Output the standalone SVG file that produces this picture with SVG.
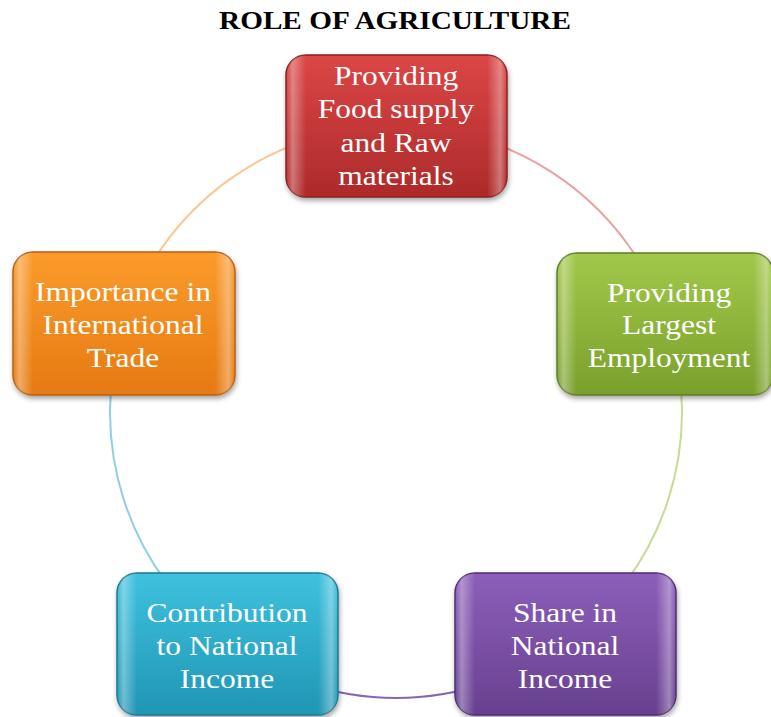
<svg xmlns="http://www.w3.org/2000/svg" width="771" height="717" viewBox="0 0 771 717">
<defs>
<linearGradient id="gRed" x1="0" y1="0" x2="0" y2="1"><stop offset="0" stop-color="#dc4646"/><stop offset="1" stop-color="#ad2a2a"/></linearGradient>
<linearGradient id="gOrange" x1="0" y1="0" x2="0" y2="1"><stop offset="0" stop-color="#fb9b2c"/><stop offset="1" stop-color="#e67a12"/></linearGradient>
<linearGradient id="gGreen" x1="0" y1="0" x2="0" y2="1"><stop offset="0" stop-color="#a2c84a"/><stop offset="1" stop-color="#7aa02c"/></linearGradient>
<linearGradient id="gTeal" x1="0" y1="0" x2="0" y2="1"><stop offset="0" stop-color="#3ec2de"/><stop offset="1" stop-color="#2095b4"/></linearGradient>
<linearGradient id="gPurple" x1="0" y1="0" x2="0" y2="1"><stop offset="0" stop-color="#8c5fba"/><stop offset="1" stop-color="#68408f"/></linearGradient>
<linearGradient id="gSheen" x1="0" y1="0" x2="1" y2="0">
<stop offset="0" stop-color="#fff" stop-opacity="0"/>
<stop offset="0.03" stop-color="#fff" stop-opacity="0.35"/>
<stop offset="0.09" stop-color="#fff" stop-opacity="0"/>
<stop offset="0.91" stop-color="#fff" stop-opacity="0"/>
<stop offset="0.97" stop-color="#fff" stop-opacity="0.35"/>
<stop offset="1" stop-color="#fff" stop-opacity="0"/>
</linearGradient>
<filter id="shadow" x="-10%" y="-10%" width="125%" height="130%">
<feDropShadow dx="1" dy="3" stdDeviation="2.5" flood-color="#000" flood-opacity="0.35"/>
</filter>
</defs>
<style>
.title{font-family:"Liberation Serif","Times New Roman",serif;font-weight:bold;font-size:26px;fill:#000;text-anchor:middle}
.lbl{font-family:"Liberation Serif","Times New Roman",serif;font-size:28px;fill:#fff;text-anchor:middle}
.conn{fill:none;stroke-width:2}
.sheen{fill:url(#gSheen)}
</style>
<rect width="771" height="717" fill="#fff"/>
<text class="title" transform="translate(395,29) scale(1.125,1)" x="0" y="0">ROLE OF AGRICULTURE</text>
<g id="connectors">
<path class="conn" stroke="#e9a3a3" d="M396,126 A286,286 0 0 1 668,323.6"/>
<path class="conn" stroke="#c6dc96" d="M668,323.6 A286,286 0 0 1 564.1,643.4"/>
<path class="conn" stroke="#8866b6" stroke-width="2.5" d="M564.1,643.4 A286,286 0 0 1 227.9,643.4"/>
<path class="conn" stroke="#8fcfe3" d="M227.9,643.4 A286,286 0 0 1 124,323.6"/>
<path class="conn" stroke="#f9c796" d="M124,323.6 A286,286 0 0 1 396,126"/>
</g>
<g id="node-food">
<rect x="286" y="55" width="221" height="142" rx="20" fill="url(#gRed)" stroke="#8a1f1f" stroke-width="1.5" filter="url(#shadow)"/>
<rect class="sheen" x="286" y="55" width="221" height="142" rx="20"/>
<g transform="translate(396,0) scale(1.125,1)">
<text class="lbl" x="0" y="85">Providing</text>
<text class="lbl" x="0" y="118">Food supply</text>
<text class="lbl" x="0" y="152">and Raw</text>
<text class="lbl" x="0" y="185">materials</text>
</g>
</g>
<g id="node-employment">
<rect x="557" y="253" width="216" height="142" rx="20" fill="url(#gGreen)" stroke="#5e7f20" stroke-width="1.5" filter="url(#shadow)"/>
<rect class="sheen" x="557" y="253" width="216" height="142" rx="20"/>
<g transform="translate(669,0) scale(1.125,1)">
<text class="lbl" x="0" y="302">Providing</text>
<text class="lbl" x="0" y="334">Largest</text>
<text class="lbl" x="0" y="367">Employment</text>
</g>
</g>
<g id="node-share">
<rect x="455" y="573" width="221" height="142" rx="20" fill="url(#gPurple)" stroke="#4e2e72" stroke-width="1.5" filter="url(#shadow)"/>
<rect class="sheen" x="455" y="573" width="221" height="142" rx="20"/>
<g transform="translate(565,0) scale(1.125,1)">
<text class="lbl" x="0" y="622">Share in</text>
<text class="lbl" x="0" y="655">National</text>
<text class="lbl" x="0" y="688">Income</text>
</g>
</g>
<g id="node-contribution">
<rect x="117" y="573" width="221" height="142" rx="20" fill="url(#gTeal)" stroke="#1a7890" stroke-width="1.5" filter="url(#shadow)"/>
<rect class="sheen" x="117" y="573" width="221" height="142" rx="20"/>
<g transform="translate(227,0) scale(1.125,1)">
<text class="lbl" x="0" y="622">Contribution</text>
<text class="lbl" x="0" y="655">to National</text>
<text class="lbl" x="0" y="688">Income</text>
</g>
</g>
<g id="node-trade">
<rect x="13" y="252" width="222" height="143" rx="20" fill="url(#gOrange)" stroke="#b86010" stroke-width="1.5" filter="url(#shadow)"/>
<rect class="sheen" x="13" y="252" width="222" height="143" rx="20"/>
<g transform="translate(123,0) scale(1.125,1)">
<text class="lbl" x="0" y="301">Importance in</text>
<text class="lbl" x="0" y="334">International</text>
<text class="lbl" x="0" y="367">Trade</text>
</g>
</g>
</svg>
